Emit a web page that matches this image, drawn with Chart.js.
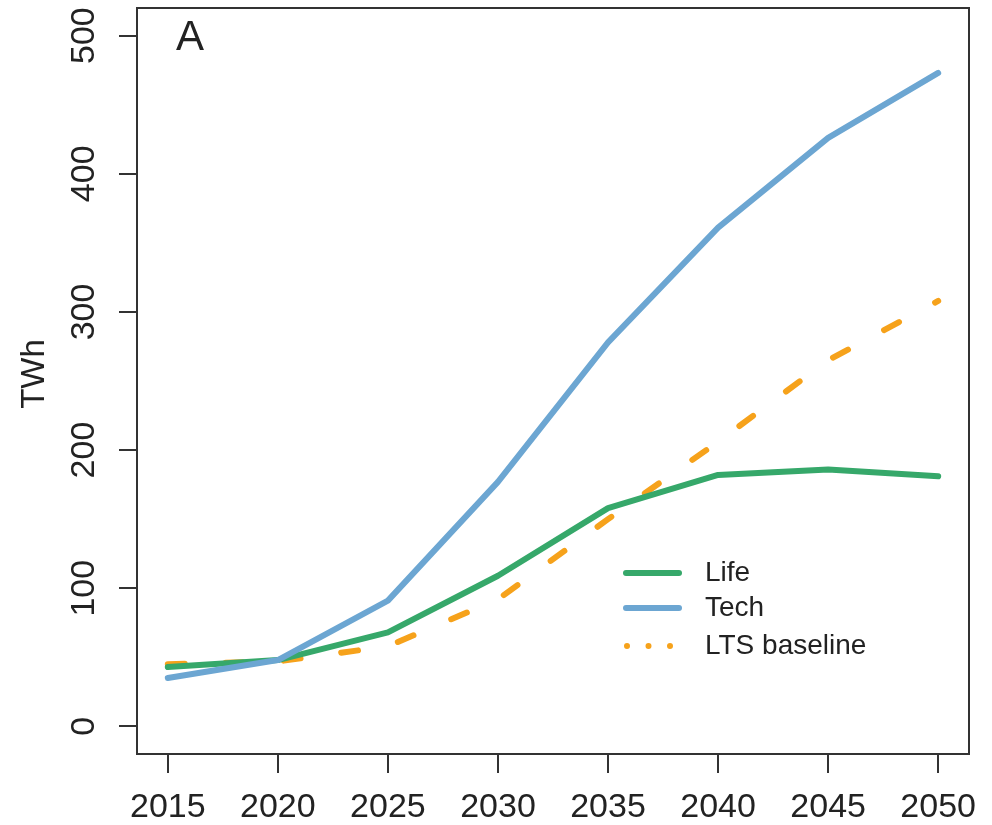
<!DOCTYPE html>
<html>
<head>
<meta charset="utf-8">
<script src="https://cdn.jsdelivr.net/npm/chart.js@4/dist/chart.umd.min.js"></script>
<style>
  body { margin: 0; background: #fff; }
  canvas { display: block; }
</style>
</head>
<body>
<canvas id="energyChart" width="992" height="825"></canvas>
<script>
// data
const years = [2015, 2020, 2025, 2030, 2035, 2040, 2045, 2050];
const lifeValues = [43, 48, 68, 109, 158, 182, 186, 181];
const techValues = [35, 48, 91, 177, 278, 361, 426, 473];
const ltsValues = [45, 47, 58, 92, 150, 206, 265, 308];
const yTickValues = [0, 100, 200, 300, 400, 500];
const seriesNames = ['Life', 'Tech', 'LTS baseline'];

const fontName = "'Liberation Sans', Arial, sans-serif";
const axisColor = '#333';

function toPoints(values) {
    return values.map(function (v, i) {
        return { x: years[i], y: v };
    });
}

// box, rotated y labels, panel letter and legend
const decorations = {
    id: 'decorations',
    afterDraw: function (chart) {
        const ctx = chart.ctx;
        const area = chart.chartArea;
        const yScale = chart.scales.y;

        ctx.save();
        ctx.strokeStyle = axisColor;
        ctx.lineWidth = 2;
        ctx.strokeRect(area.left, area.top, area.right - area.left, area.bottom - area.top);

        ctx.fillStyle = '#222';
        ctx.font = '34px ' + fontName;
        ctx.textAlign = 'center';
        ctx.textBaseline = 'middle';
        yScale.ticks.forEach(function (t) {
            const py = yScale.getPixelForValue(t.value);
            ctx.save();
            ctx.translate(85, py);
            ctx.rotate(-Math.PI / 2);
            ctx.fillText(String(t.value), 0, 0);
            ctx.restore();
        });

        ctx.save();
        ctx.translate(35, 374);
        ctx.rotate(-Math.PI / 2);
        ctx.font = '33px ' + fontName;
        ctx.fillText('TWh', 0, 0);
        ctx.restore();

        ctx.font = '42px ' + fontName;
        ctx.fillText('A', 190, 38);

        // legend
        ctx.font = '28px ' + fontName;
        ctx.textAlign = 'left';
        const rows = [573, 608, 646];
        chart.data.datasets.forEach(function (ds, i) {
            const y = rows[i];
            ctx.strokeStyle = ds.borderColor;
            ctx.lineWidth = 6;
            ctx.lineCap = 'round';
            ctx.beginPath();
            if (i === 2) {
                ctx.setLineDash([0, 21.5]);
                ctx.moveTo(627, y);
                ctx.lineTo(672, y);
            } else {
                ctx.setLineDash([]);
                ctx.moveTo(626, y);
                ctx.lineTo(679, y);
            }
            ctx.stroke();
            ctx.setLineDash([]);
            ctx.fillStyle = '#222';
            ctx.fillText(ds.label, 705, y);
        });
        ctx.restore();
    }
};

const energyChart = new Chart(document.getElementById('energyChart'), {
    type: 'line',
    data: {
        datasets: [
            {
                label: seriesNames[0],
                data: toPoints(lifeValues),
                borderColor: '#36A86A',
                borderWidth: 6,
                order: 1
            },
            {
                label: seriesNames[1],
                data: toPoints(techValues),
                borderColor: '#6CA6D2',
                borderWidth: 6,
                order: 0
            },
            {
                label: seriesNames[2],
                data: toPoints(ltsValues),
                borderColor: '#F6A21B',
                borderWidth: 6,
                borderDash: [17, 41],
                borderCapStyle: 'round',
                order: 2
            }
        ]
    },
    options: {
        responsive: false,
        animation: false,
        devicePixelRatio: 1,
        layout: {
            padding: { left: 119, right: 23, top: 8, bottom: -18 }
        },
        elements: {
            point: { radius: 0 },
            line: { tension: 0, borderJoinStyle: 'round', borderCapStyle: 'round', fill: false }
        },
        scales: {
            x: {
                type: 'linear',
                min: 2013.6,
                max: 2051.4,
                afterBuildTicks: function (scale) {
                    scale.ticks = years.map(function (v) { return { value: v }; });
                },
                afterFit: function (scale) {
                    scale.paddingLeft = 0;
                    scale.paddingRight = 0;
                },
                grid: {
                    drawOnChartArea: false,
                    drawTicks: true,
                    tickLength: 19,
                    color: axisColor,
                    lineWidth: 2
                },
                border: { display: false },
                ticks: {
                    color: '#222',
                    padding: 18,
                    maxRotation: 0,
                    autoSkip: false,
                    font: { family: fontName, size: 34, lineHeight: 1 },
                    callback: function (value) { return String(value); }
                }
            },
            y: {
                type: 'linear',
                min: -20,
                max: 520,
                afterBuildTicks: function (scale) {
                    scale.ticks = yTickValues.map(function (v) { return { value: v }; });
                },
                grid: {
                    drawOnChartArea: false,
                    drawTicks: true,
                    tickLength: 18,
                    color: axisColor,
                    lineWidth: 2
                },
                border: { display: false },
                ticks: { display: false }
            }
        },
        plugins: {
            legend: { display: false },
            tooltip: { enabled: false }
        }
    },
    plugins: [decorations]
});
</script>
</body>
</html>
